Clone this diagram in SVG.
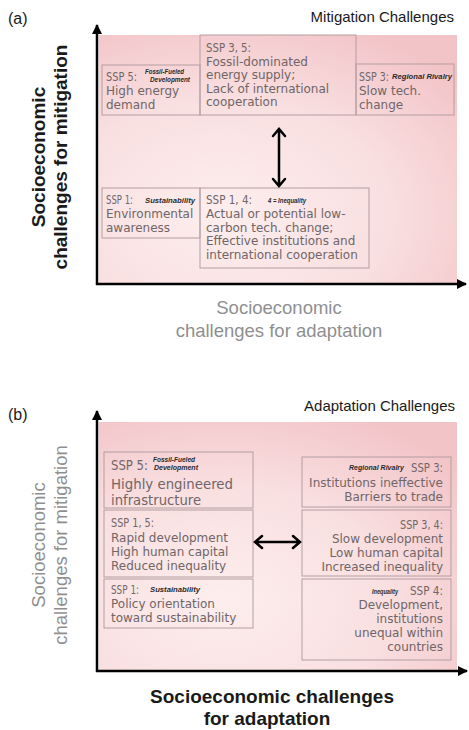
<svg xmlns="http://www.w3.org/2000/svg" width="469" height="730" viewBox="0 0 469 730">
<defs>
<radialGradient id="pink" cx="0.35" cy="0.72" r="0.85">
<stop offset="0" stop-color="#fdeeee"/>
<stop offset="0.55" stop-color="#f9dfe0"/>
<stop offset="1" stop-color="#f2c3c7"/>
</radialGradient>
<marker id="ah" viewBox="0 0 10 10" refX="9" refY="5" markerWidth="4" markerHeight="4" orient="auto" markerUnits="strokeWidth">
<path d="M0,0 L10,5 L0,10 Z" fill="#000"/>
</marker>
</defs>
<style>
.bg{fill:url(#pink)}
.box{fill:none;stroke:#b49ea1;stroke-width:1}
.t{font-family:"DejaVu Sans",sans-serif;font-size:12px;fill:#706668}
.big{font-size:13.2px}
.tiny{font-family:"Liberation Sans",Arial,sans-serif;font-size:6.5px;font-weight:bold;font-style:italic;fill:#2a2a2a}
.r{text-anchor:end}
.axis{stroke:#000;stroke-width:2.5;fill:none}
.darr{stroke:#000;stroke-width:2.5;fill:none;stroke-linecap:round;stroke-linejoin:miter}
.lbl{font-family:"Liberation Sans",Arial,sans-serif;text-anchor:middle}
.bold{font-size:19px;font-weight:bold;fill:#1a1a1a}
.gray{font-size:18.5px;fill:#8f8f8f}
.title{font-family:"Liberation Sans",Arial,sans-serif;font-size:15px;fill:#1a1a1a;text-anchor:end}
.pl{font-family:"Liberation Sans",Arial,sans-serif;font-size:16px;fill:#1a1a1a}
</style>

<!-- Panel (a) -->
<g id="panel-a">
<text class="pl" x="8" y="24">(a)</text>
<text class="title" x="454" y="22">Mitigation Challenges</text>
<rect class="bg" x="99" y="35" width="358" height="248"/>
</g>

<g id="a-ssp5">
<rect class="box" x="102" y="65" width="98" height="50"/>
<text class="t" x="106" y="81" textLength="31" lengthAdjust="spacingAndGlyphs">SSP 5:</text>
<text class="tiny" x="145" y="74" textLength="39" lengthAdjust="spacingAndGlyphs">Fossil-Fueled</text>
<text class="tiny" x="150" y="82" textLength="40" lengthAdjust="spacingAndGlyphs">Development</text>
<text class="t" x="106" y="95">High energy</text>
<text class="t" x="106" y="109">demand</text>
</g>

<g id="a-ssp35">
<rect class="box" x="200" y="35" width="156" height="80"/>
<text class="t" x="206" y="52" textLength="45" lengthAdjust="spacingAndGlyphs">SSP 3, 5:</text>
<text class="t" x="206" y="65.5">Fossil-dominated</text>
<text class="t" x="206" y="79">energy supply;</text>
<text class="t" x="206" y="92.5">Lack of international</text>
<text class="t" x="206" y="106">cooperation</text>
</g>

<g id="a-ssp3">
<rect class="box" x="356" y="64" width="98" height="51"/>
<text class="t" x="359" y="81" textLength="30" lengthAdjust="spacingAndGlyphs">SSP 3:</text>
<text class="tiny" x="392" y="79" textLength="60" lengthAdjust="spacingAndGlyphs">Regional Rivalry</text>
<text class="t" x="359" y="95">Slow tech.</text>
<text class="t" x="359" y="109">change</text>
</g>

<g id="a-ssp1">
<rect class="box" x="102" y="188" width="98" height="50"/>
<text class="t" x="106" y="204" textLength="27" lengthAdjust="spacingAndGlyphs">SSP 1:</text>
<text class="tiny" x="145" y="203" textLength="50" lengthAdjust="spacingAndGlyphs">Sustainability</text>
<text class="t" x="106" y="218">Environmental</text>
<text class="t" x="106" y="232">awareness</text>
</g>

<g id="a-ssp14">
<rect class="box" x="200" y="188" width="169" height="80"/>
<text class="t" x="206" y="204" textLength="46" lengthAdjust="spacingAndGlyphs">SSP 1, 4:</text>
<text class="tiny" x="268" y="203" textLength="38" lengthAdjust="spacingAndGlyphs">4 = Inequality</text>
<text class="t" x="206" y="218">Actual or potential low-</text>
<text class="t" x="206" y="231.5">carbon tech. change;</text>
<text class="t" x="206" y="245">Effective institutions and</text>
<text class="t" x="206" y="259">international cooperation</text>
</g>

<g id="a-axes-labels">
<text class="lbl bold" transform="translate(45,157) rotate(-90)">Socioeconomic</text>
<text class="lbl bold" transform="translate(67,157) rotate(-90)">challenges for mitigation</text>
<text class="lbl gray" x="279" y="314">Socioeconomic</text>
<text class="lbl gray" x="279" y="337">challenges for adaptation</text>
</g>

<!-- Panel (b) -->
<g id="panel-b">
<text class="pl" x="8" y="420">(b)</text>
<text class="title" x="455" y="411">Adaptation Challenges</text>
<rect class="bg" x="99" y="422" width="358" height="248"/>
</g>

<g id="b-ssp5">
<rect class="box" x="104" y="452" width="149" height="56"/>
<text class="t big" x="111" y="470" textLength="37" lengthAdjust="spacingAndGlyphs">SSP 5:</text>
<text class="tiny" x="153" y="462" textLength="42" lengthAdjust="spacingAndGlyphs">Fossil-Fueled</text>
<text class="tiny" x="154" y="470" textLength="44" lengthAdjust="spacingAndGlyphs">Development</text>
<text class="t big" x="111" y="489" textLength="122" lengthAdjust="spacingAndGlyphs">Highly engineered</text>
<text class="t big" x="111" y="505">infrastructure</text>
</g>

<g id="b-ssp15">
<rect class="box" x="104" y="510" width="149" height="67"/>
<text class="t" x="111" y="527" textLength="43" lengthAdjust="spacingAndGlyphs">SSP 1, 5:</text>
<text class="t" x="111" y="542">Rapid development</text>
<text class="t" x="111" y="556">High human capital</text>
<text class="t" x="111" y="570">Reduced inequality</text>
</g>

<g id="b-ssp1">
<rect class="box" x="104" y="579" width="149" height="49"/>
<text class="t" x="111" y="594" textLength="28" lengthAdjust="spacingAndGlyphs">SSP 1:</text>
<text class="tiny" x="150" y="592" textLength="50" lengthAdjust="spacingAndGlyphs">Sustainability</text>
<text class="t" x="111" y="608">Policy orientation</text>
<text class="t" x="111" y="622">toward sustainability</text>
</g>

<g id="b-ssp3">
<rect class="box" x="302" y="457" width="149" height="50"/>
<text class="tiny" x="349" y="470" textLength="55" lengthAdjust="spacingAndGlyphs">Regional Rivalry</text>
<text class="t r" x="443" y="472" textLength="32" lengthAdjust="spacingAndGlyphs">SSP 3:</text>
<text class="t r" x="443" y="487">Institutions ineffective</text>
<text class="t r" x="443" y="501">Barriers to trade</text>
</g>

<g id="b-ssp34">
<rect class="box" x="302" y="510" width="149" height="66"/>
<text class="t r" x="443" y="529" textLength="43" lengthAdjust="spacingAndGlyphs">SSP 3, 4:</text>
<text class="t r" x="443" y="543">Slow development</text>
<text class="t r" x="443" y="557">Low human capital</text>
<text class="t r" x="443" y="571">Increased inequality</text>
</g>

<g id="b-ssp4">
<rect class="box" x="302" y="579" width="149" height="81"/>
<text class="tiny" x="372" y="594" textLength="26" lengthAdjust="spacingAndGlyphs">Inequality</text>
<text class="t r" x="443" y="595" textLength="33" lengthAdjust="spacingAndGlyphs">SSP 4:</text>
<text class="t r" x="443" y="609">Development,</text>
<text class="t r" x="443" y="623">institutions</text>
<text class="t r" x="443" y="637">unequal within</text>
<text class="t r" x="443" y="651">countries</text>
</g>

<g id="b-axes-labels">
<text class="lbl gray" transform="translate(45,545) rotate(-90)">Socioeconomic</text>
<text class="lbl gray" transform="translate(67,545) rotate(-90)">challenges for mitigation</text>
<text class="lbl bold" x="272" y="703">Socioeconomic challenges</text>
<text class="lbl bold" x="267" y="725">for adaptation</text>
</g>

<!-- Connectors -->
<g id="connectors">
<path class="axis" d="M97,285 L97,25" marker-end="url(#ah)"/>
<path class="axis" d="M96,284 L466,284" marker-end="url(#ah)"/>
<path class="axis" d="M97,672 L97,411" marker-end="url(#ah)"/>
<path class="axis" d="M96,671 L467,671" marker-end="url(#ah)"/>
<path class="darr" d="M279,130 L279,185 M273,136 L279,129 L285,136 M273,179 L279,186 L285,179"/>
<path class="darr" d="M255,542 L300,542 M262,536 L255,542 L262,548 M293,536 L300,542 L293,548"/>
</g>
</svg>
